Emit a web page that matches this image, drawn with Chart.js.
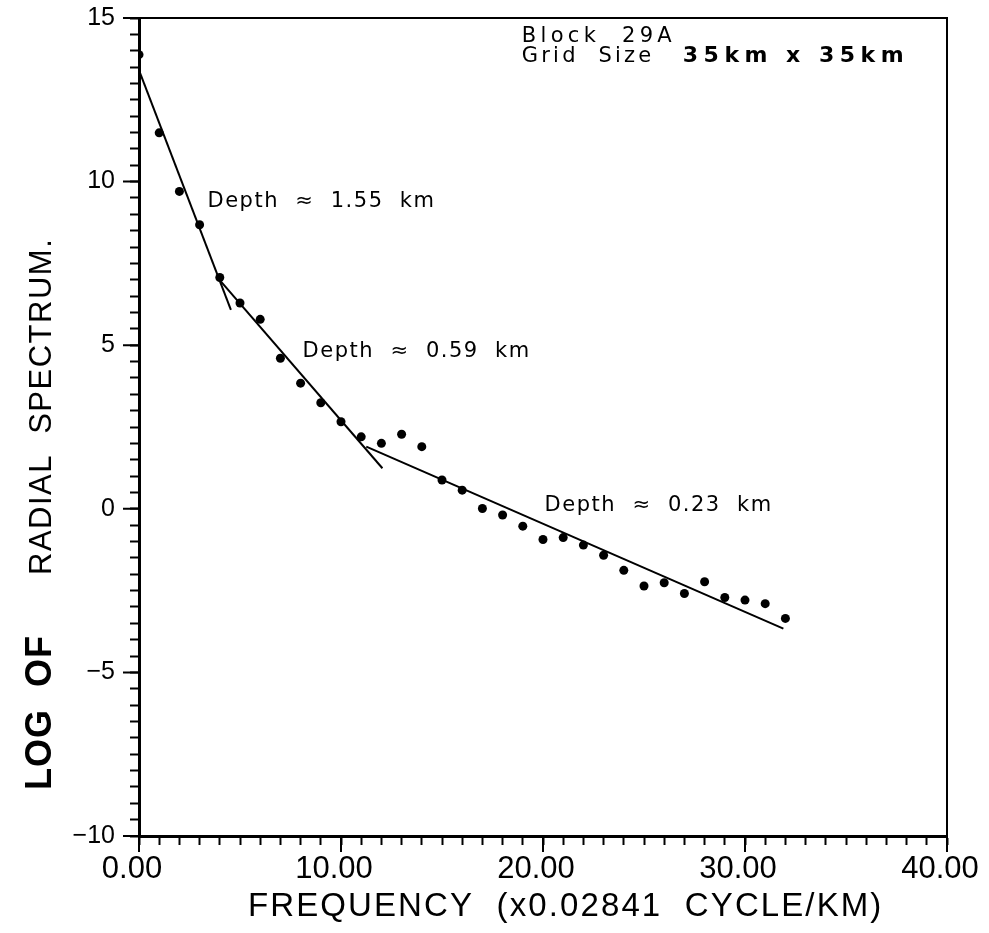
<!DOCTYPE html>
<html>
<head>
<meta charset="utf-8">
<title>Radial spectrum - Block 29A</title>
<script src="https://cdn.jsdelivr.net/npm/chart.js@4.4.0/dist/chart.umd.min.js"></script>
<style>
  html, body { margin: 0; padding: 0; background: #fff; }
  #chart { display: block; }
</style>
</head>
<body>
<canvas id="chart" width="989" height="933"></canvas>
<script>
// radial spectrum: frequency index vs log power
const frequency = [0, 1, 2, 3, 4, 5, 6, 7, 8, 9, 10, 11, 12, 13, 14, 15, 16,
	17, 18, 19, 20, 21, 22, 23, 24, 25, 26, 27, 28, 29, 30, 31, 32];
const logSpectrum = [13.88, 11.49, 9.70, 8.68, 7.07, 6.29, 5.79, 4.60, 3.84, 3.24, 2.66,
	2.20, 2.00, 2.28, 1.90, 0.88, 0.57, 0.01, -0.19, -0.53, -0.94, -0.88, -1.11,
	-1.42, -1.88, -2.36, -2.26, -2.59, -2.23, -2.71, -2.79, -2.90, -3.35];

// straight-line fits, one per depth segment
const deepFitX = [0.05, 4.55];
const deepFitY = [13.32, 6.08];
const midFitX = [4.05, 12.05];
const midFitY = [6.95, 1.24];
const shallowFitX = [11.25, 31.9];
const shallowFitY = [1.90, -3.66];

// depth annotations, anchored in data units (left edge, baseline)
const depthLabels = ["Depth  \u2248  1.55  km", "Depth  \u2248  0.59  km", "Depth  \u2248  0.23  km"];
const depthLabelX = [3.39, 8.10, 20.08];
const depthLabelY = [9.23, 4.64, -0.07];

// labelled ticks
const xMajorTicks = [0, 10, 20, 30, 40];
const yMajorTicks = [-10, -5, 0, 5, 10, 15];

function pairs(xs, ys)
{
	return xs.map(function(x, i) { return { x: x, y: ys[i] }; });
}

function isMajor(list, v)
{
	return list.some(function(m) { return Math.abs(m - v) < 1e-6; });
}

function spacedText(ctx, text, x, y, font, spacing)
{
	ctx.font = font;
	ctx.letterSpacing = spacing + "px";
	ctx.fillText(text, x, y);
	let w = ctx.measureText(text).width;
	ctx.letterSpacing = "0px";
	return w;
}

// keep the plot box fixed: no extra room for overhanging tick labels
function noOverhang(s)
{
	s.paddingTop = 0;
	s.paddingBottom = 0;
	s.paddingLeft = 0;
	s.paddingRight = 0;
}

const plotterDecor = {
	id: "plotterDecor",
	afterDraw: function(chart)
	{
		const ctx = chart.ctx;
		const a = chart.chartArea;
		const xs = chart.scales.x;
		const ys = chart.scales.y;

		ctx.save();
		ctx.strokeStyle = "#000";
		ctx.fillStyle = "#000";

		// frame on the top and right
		ctx.lineWidth = 2;
		ctx.beginPath();
		ctx.moveTo(a.left, a.top);
		ctx.lineTo(a.right, a.top);
		ctx.lineTo(a.right, a.bottom);
		ctx.stroke();

		// longer marks at the labelled ticks
		ctx.lineWidth = 2;
		ctx.beginPath();
		xMajorTicks.forEach(function(v)
		{
			let px = xs.getPixelForValue(v);
			ctx.moveTo(px, a.bottom);
			ctx.lineTo(px, a.bottom + 16);
		});
		yMajorTicks.forEach(function(v)
		{
			let py = ys.getPixelForValue(v);
			ctx.moveTo(a.left, py);
			ctx.lineTo(a.left - 16, py);
		});
		ctx.stroke();

		ctx.textAlign = "left";
		ctx.textBaseline = "alphabetic";

		// depth annotations
		depthLabels.forEach(function(t, i)
		{
			spacedText(ctx, t, xs.getPixelForValue(depthLabelX[i]), ys.getPixelForValue(depthLabelY[i]),
				"21px 'DejaVu Sans'", 1.5);
		});

		// header
		let hx = xs.getPixelForValue(18.95);
		spacedText(ctx, "Block  29A", hx, ys.getPixelForValue(14.28), "21px 'DejaVu Sans'", 4.3);
		spacedText(ctx, "Grid  Size", hx, ys.getPixelForValue(13.67), "21px 'DejaVu Sans'", 3.2);
		spacedText(ctx, "35km x 35km", xs.getPixelForValue(26.92), ys.getPixelForValue(13.67),
			"bold 22px 'DejaVu Sans'", 5.5);

		// x axis title
		spacedText(ctx, "FREQUENCY  (x0.02841  CYCLE/KM)", 248, 916, "33px 'Liberation Sans'", 2.1);

		// y axis title, mixed weights
		ctx.translate(51, 790);
		ctx.rotate(-Math.PI / 2);
		let w = spacedText(ctx, "LOG  OF", 0, 0, "bold 36px 'Liberation Sans'", 1);
		spacedText(ctx, "RADIAL  SPECTRUM.", w + 60, 0, "31px 'Liberation Sans'", 1.5);

		ctx.restore();
	}
};

new Chart(document.getElementById("chart"), {
	type: "scatter",
	data: {
		datasets: [
			{
				label: "spectrum",
				data: pairs(frequency, logSpectrum),
				pointRadius: 4.5,
				pointBackgroundColor: "#000",
				pointBorderWidth: 0
			},
			{
				label: "fit 1.55",
				type: "line",
				data: pairs(deepFitX, deepFitY),
				borderColor: "#000",
				borderWidth: 2,
				pointRadius: 0
			},
			{
				label: "fit 0.59",
				type: "line",
				data: pairs(midFitX, midFitY),
				borderColor: "#000",
				borderWidth: 2,
				pointRadius: 0
			},
			{
				label: "fit 0.23",
				type: "line",
				data: pairs(shallowFitX, shallowFitY),
				borderColor: "#000",
				borderWidth: 2,
				pointRadius: 0
			}
		]
	},
	options: {
		responsive: false,
		animation: false,
		devicePixelRatio: 1,
		layout: { padding: { top: 18, right: 42, left: 0, bottom: 0 } },
		plugins: {
			legend: { display: false },
			tooltip: { enabled: false }
		},
		scales: {
			x: {
				type: "linear",
				min: 0,
				max: 40,
				border: { display: true, color: "#000", width: 3 },
				grid: { drawOnChartArea: false, drawTicks: true, tickLength: 9, tickColor: "#000", tickWidth: 2 },
				ticks: {
					stepSize: 1,
					autoSkip: false,
					maxTicksLimit: 100,
					maxRotation: 0,
					labelOffset: -7,
					padding: 6,
					color: "#000",
					font: { family: "'Liberation Sans'", size: 31 },
					callback: function(v) { return isMajor(xMajorTicks, v) ? Number(v).toFixed(2) : ""; }
				},
				afterFit: function(s) { s.height = 97; noOverhang(s); }
			},
			y: {
				type: "linear",
				min: -10,
				max: 15,
				border: { display: true, color: "#000", width: 3 },
				grid: { drawOnChartArea: false, drawTicks: true, tickLength: 9, tickColor: "#000", tickWidth: 2 },
				ticks: {
					stepSize: 0.5,
					autoSkip: false,
					maxTicksLimit: 100,
					padding: 15,
					color: "#000",
					font: { family: "'Liberation Sans'", size: 25 },
					callback: function(v)
					{
						if (!isMajor(yMajorTicks, v)) return "";
						let r = Math.round(v);
						return r < 0 ? "\u2212" + Math.abs(r) : String(r);
					}
				},
				afterFit: function(s) { s.width = 139; noOverhang(s); }
			}
		}
	},
	plugins: [plotterDecor]
});
</script>
</body>
</html>
